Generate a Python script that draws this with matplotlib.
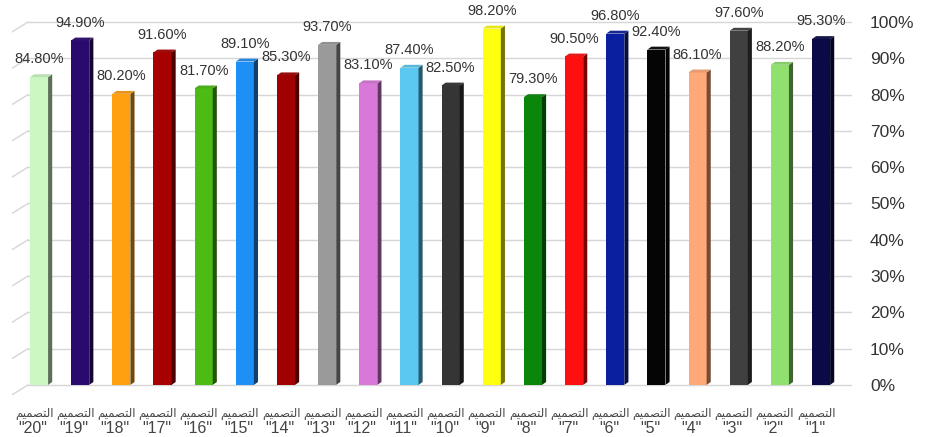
import matplotlib.pyplot as plt
import matplotlib.colors as mcolors
from matplotlib.patches import Polygon, Rectangle

# data, in the order drawn from left to right
designs = ["20", "19", "18", "17", "16", "15", "14", "13", "12", "11",
           "10", "9", "8", "7", "6", "5", "4", "3", "2", "1"]
values = [84.8, 94.9, 80.2, 91.6, 81.7, 89.1, 85.3, 93.7, 83.1, 87.4,
          82.5, 98.2, 79.3, 90.5, 96.8, 92.4, 86.1, 97.6, 88.2, 95.3]
bar_colors = ["#ccf7c2", "#2b0a70", "#ffa010", "#a80000", "#4cbb14",
              "#1e8ff5", "#a00000", "#9a9a9a", "#d878d8", "#5ac8f0",
              "#353535", "#ffff10", "#0a870a", "#ff1010", "#0a1ea0",
              "#050505", "#ffa878", "#404040", "#90e070", "#0a0a48"]
y_ticks = list(range(0, 101, 10))

# "التصميم" in shaped presentation forms, visual order (matplotlib has no RTL shaping)
word = "\ufee2\ufef4\ufee4\ufebc\ufe98\ufedf\ufe8d"

plt.rcParams['font.family'] = ['Liberation Sans', 'DejaVu Sans']

fig = plt.figure(figsize=(9.25, 4.37), dpi=100)
ax = fig.add_axes([0.013, 0.086, 0.908, 0.872])
ax.set_xlim(-0.656, 19.75)
ax.set_ylim(-4, 101)

# back wall grid with a slanted side wall on the left
for t in y_ticks:
    ax.plot([-0.267, 19.75], [t, t], color="#d6d6d6", lw=1, zorder=1)
    ax.plot([-0.656, -0.267], [t - 2.75, t], color="#d6d6d6", lw=1, zorder=1)

w = 0.44
dx, dy = 0.1, 0.8
for i, (v, c) in enumerate(zip(values, bar_colors)):
    rgb = mcolors.to_rgb(c)
    side = tuple(ch * 0.45 for ch in rgb)
    top = tuple(min(1, ch * 0.85 + 0.05) for ch in rgb)
    x0, x1 = i - w / 2, i + w / 2
    ax.add_patch(Rectangle((x0, 0), w, v, facecolor=c, edgecolor="none", zorder=3))
    ax.add_patch(Polygon([(x1, 0), (x1 + dx, dy), (x1 + dx, v + dy), (x1, v)],
                         facecolor=side, edgecolor="none", zorder=3))
    ax.add_patch(Polygon([(x0, v), (x0 + dx, v + dy), (x1 + dx, v + dy), (x1, v)],
                         facecolor=top, edgecolor="none", zorder=3))
    ax.text(i, v + 3.0, f"{v:.2f}%", ha="center", va="bottom",
            fontsize=10.5, color="#333333", zorder=4)
    ax.text(i - 0.12, -7.6, word, ha="center", va="center", fontsize=8.5,
            family="DejaVu Sans", color="#444444")
    ax.text(i - 0.15, -12.0, f'"{designs[i]}"', ha="center", va="center",
            fontsize=11.5, color="#444444")

ax.yaxis.tick_right()
ax.set_yticks(y_ticks)
ax.set_yticklabels([f"{t}%" for t in y_ticks], fontsize=12.5, color="#333333")
ax.tick_params(axis="y", length=0, pad=13)
ax.set_xticks([])
for s in ax.spines.values():
    s.set_visible(False)

plt.savefig("out.png", dpi=100)
